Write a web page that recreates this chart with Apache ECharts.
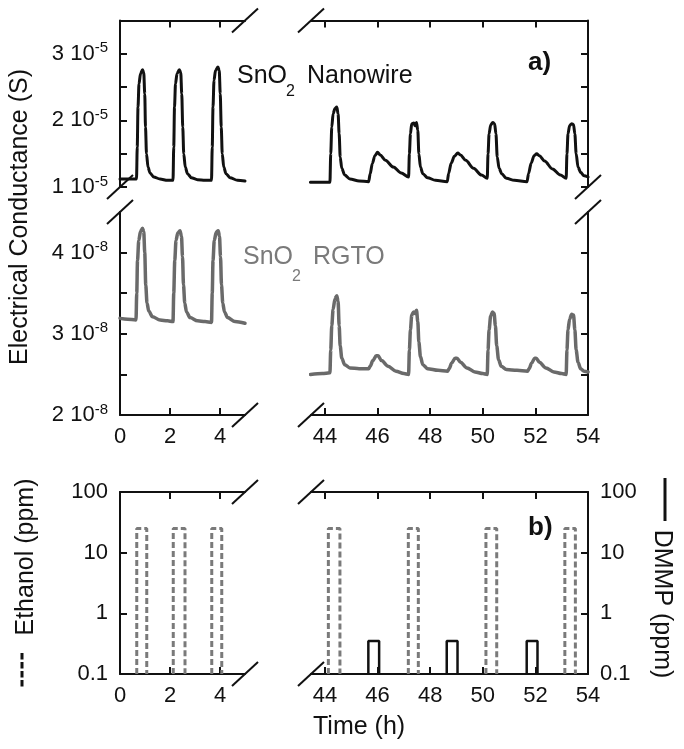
<!DOCTYPE html>
<html><head><meta charset="utf-8">
<script src="https://cdn.jsdelivr.net/npm/echarts@6/dist/echarts.min.js"></script>
<style>html,body{margin:0;padding:0;background:#fff}#c{width:684px;height:749px}</style>
</head><body><div id="c"></div>
<script>
// ---------- DATA ----------
// Time (h); nanowire conductance in units of 1e-5 S
const nanoLeft = [[0,1.12],[0.3,1.12],[0.66,1.12],[0.69,1.6],[0.72,2.2],[0.76,2.55],[0.82,2.7],[0.9,2.76],[0.95,2.72],[0.99,2.4],[1.02,1.9],[1.06,1.5],[1.12,1.3],[1.2,1.21],[1.35,1.15],[1.6,1.12],[1.9,1.1],[2.12,1.1],
[2.15,1.6],[2.18,2.2],[2.22,2.55],[2.28,2.7],[2.37,2.76],[2.43,2.72],[2.47,2.4],[2.51,1.9],[2.55,1.5],[2.61,1.3],[2.7,1.2],[2.85,1.14],[3.1,1.11],[3.4,1.1],[3.66,1.1],
[3.69,1.6],[3.72,2.2],[3.76,2.6],[3.82,2.75],[3.92,2.8],[3.97,2.75],[4.01,2.4],[4.05,1.9],[4.09,1.5],[4.15,1.3],[4.24,1.2],[4.4,1.14],[4.7,1.1],[5.0,1.09]];
const nanoRight = [[43.45,1.07],[44.0,1.07],[44.19,1.07],[44.22,1.5],[44.26,1.9],[44.31,2.1],[44.38,2.18],[44.45,2.2],[44.5,2.1],[44.54,1.8],[44.58,1.45],[44.64,1.28],[44.75,1.18],[44.95,1.12],[45.3,1.09],[45.66,1.08],
[45.72,1.2],[45.8,1.35],[45.9,1.47],[46.0,1.52],[46.1,1.48],[46.3,1.4],[46.6,1.3],[46.9,1.21],[47.18,1.15],
[47.21,1.5],[47.25,1.8],[47.3,1.95],[47.38,1.96],[47.42,1.92],[47.48,1.97],[47.53,1.85],[47.57,1.5],[47.63,1.3],[47.72,1.2],[47.9,1.14],[48.2,1.1],[48.65,1.08],
[48.7,1.2],[48.8,1.36],[48.92,1.46],[49.05,1.51],[49.15,1.48],[49.35,1.4],[49.65,1.28],[49.95,1.18],[50.17,1.13],
[50.2,1.5],[50.24,1.8],[50.3,1.93],[50.38,1.97],[50.45,1.95],[50.5,1.8],[50.55,1.45],[50.62,1.28],[50.72,1.2],[50.9,1.13],[51.2,1.1],[51.68,1.08],
[51.74,1.2],[51.84,1.36],[51.95,1.47],[52.05,1.5],[52.15,1.47],[52.35,1.39],[52.65,1.27],[52.95,1.18],[53.17,1.13],
[53.2,1.5],[53.24,1.8],[53.3,1.92],[53.38,1.95],[53.45,1.94],[53.5,1.8],[53.55,1.5],[53.62,1.3],[53.72,1.22],[53.85,1.17],[54,1.15]];
// RGTO conductance in units of 1e-8 S
const rgtoLeft = [[0,3.19],[0.3,3.18],[0.64,3.17],[0.67,3.5],[0.7,3.9],[0.75,4.15],[0.82,4.26],[0.9,4.3],[0.95,4.26],[0.99,4.0],[1.03,3.6],[1.08,3.38],[1.15,3.28],[1.3,3.21],[1.6,3.17],[1.9,3.16],[2.12,3.15],
[2.15,3.5],[2.19,3.9],[2.24,4.15],[2.31,4.24],[2.4,4.27],[2.46,4.2],[2.5,3.95],[2.54,3.6],[2.59,3.38],[2.66,3.27],[2.8,3.2],[3.1,3.16],[3.4,3.15],[3.66,3.14],
[3.69,3.5],[3.72,3.9],[3.77,4.15],[3.85,4.25],[3.93,4.27],[3.98,4.2],[4.02,3.95],[4.06,3.6],[4.11,3.38],[4.18,3.27],[4.3,3.2],[4.6,3.15],[5.0,3.13]];
const rgtoRight = [[43.45,2.5],[43.9,2.51],[44.19,2.52],[44.22,2.8],[44.26,3.1],[44.31,3.3],[44.38,3.43],[44.45,3.47],[44.5,3.4],[44.54,3.1],[44.58,2.85],[44.64,2.7],[44.75,2.62],[44.95,2.58],[45.3,2.57],[45.66,2.57],
[45.72,2.6],[45.82,2.67],[45.95,2.73],[46.02,2.73],[46.15,2.67],[46.4,2.6],[46.7,2.54],[47.0,2.51],[47.18,2.5],
[47.21,2.8],[47.25,3.05],[47.3,3.23],[47.37,3.27],[47.42,3.25],[47.48,3.29],[47.53,3.15],[47.57,2.9],[47.63,2.72],[47.72,2.62],[47.9,2.57],[48.3,2.55],[48.66,2.54],
[48.72,2.57],[48.82,2.64],[48.95,2.7],[49.02,2.7],[49.15,2.65],[49.4,2.58],[49.7,2.53],[50.0,2.51],[50.17,2.5],
[50.2,2.8],[50.24,3.05],[50.3,3.22],[50.37,3.27],[50.43,3.25],[50.48,3.1],[50.53,2.85],[50.6,2.68],[50.7,2.6],[50.9,2.56],[51.3,2.55],[51.7,2.54],
[51.76,2.57],[51.86,2.64],[51.97,2.7],[52.03,2.7],[52.15,2.65],[52.4,2.58],[52.7,2.53],[53.0,2.51],[53.17,2.5],
[53.2,2.8],[53.24,3.05],[53.3,3.18],[53.38,3.24],[53.45,3.23],[53.5,3.05],[53.55,2.8],[53.62,2.65],[53.72,2.57],[53.85,2.54],[54,2.53]];
// gas pulses [start h, end h] and concentrations (ppm)
const ethanolLeft = [[0.67,1.07],[2.13,2.6],[3.67,4.07]];
const ethanolRight = [[44.13,44.57],[47.17,47.55],[50.12,50.53],[53.12,53.52]];
const dmmpRight = [[45.65,46.06],[48.63,49.04],[51.67,52.08]];
const ethanolPpm = 25;
const dmmpPpm = 0.35;
// axes
const xRangeLeft = [0,5];
const xRangeRight = [43.47,54];
const xLabelsLeft = [0,2,4];
const xLabelsRight = [44,46,48,50,52,54];
const xTicksLeft = [2,4];
const xTicksRight = [44,46,48,50,52];
const nanoRange = [1,3.5], nanoTicks = [1,1.5,2,2.5,3], nanoLabels = [1,2,3];
const rgtoRange = [2,4.5], rgtoTicks = [2,2.5,3,3.5,4], rgtoLabels = [2,3,4];
const ppmRange = [0.1,100];

// ---------- LAYOUT ----------
const INK = '#111';
const GRAY = '#6a6a6a';
const FONT = 'Liberation Sans, Arial, sans-serif';
const TICKFS = 22;
const L0=120, L1=245, R0=311, R1=588;
const AU_T=20.5, AU_B=187, AL_T=212, AL_B=415, B_T=492, B_B=674;

function grid(l,r,t,b){return {left:l, top:t, width:r-l, height:b-t, containLabel:false};}
const grids = [grid(L0,L1,AU_T,AU_B), grid(R0,R1,AU_T,AU_B), grid(L0,L1,AL_T,AL_B), grid(R0,R1,AL_T,AL_B), grid(L0,L1,B_T,B_B), grid(R0,R1,B_T,B_B)];

function xAx(gi, range, pos, ticks, labels){
  return {type:'value', gridIndex:gi, min:range[0], max:range[1], position:pos,
    axisLine:{show:true,onZero:false,lineStyle:{color:INK,width:2}},
    axisTick:{show:true,inside:true,length:7,customValues:ticks,lineStyle:{color:INK,width:2}},
    axisLabel: labels ? {show:true,customValues:labels,color:INK,fontSize:TICKFS,margin:11,fontFamily:FONT} : {show:false},
    splitLine:{show:false}};
}
function supFmt(exp){return v => '{m|' + Math.round(v) + ' 10}{s|' + exp + '}';}
const supRich = {m:{fontSize:TICKFS,lineHeight:26,color:INK,fontFamily:FONT}, s:{fontSize:15,lineHeight:14,verticalAlign:'top',color:INK,fontFamily:FONT}};
function yAx(gi, range, pos, ticks, labels, exp){
  return {type:'value', gridIndex:gi, min:range[0], max:range[1], position:pos,
    axisLine:{show:true,onZero:false,lineStyle:{color:INK,width:2}},
    axisTick:{show:true,inside:true,length:7,customValues:ticks,lineStyle:{color:INK,width:2}},
    axisLabel: labels ? {show:true,customValues:labels,margin:12,formatter:supFmt(exp),rich:supRich} : {show:false},
    splitLine:{show:false}};
}
function yLog(gi,pos){
  return {type:'log', logBase:10, gridIndex:gi, min:ppmRange[0], max:ppmRange[1], position:pos,
    axisLine:{show:true,onZero:false,lineStyle:{color:INK,width:2}},
    axisTick:{show:true,inside:true,length:7,lineStyle:{color:INK,width:2}},
    axisLabel:{show:true,color:INK,fontSize:TICKFS,margin:12,fontFamily:FONT,formatter:v=> v<0.5?'0.1':String(Math.round(v))},
    minorTick:{show:false}, splitLine:{show:false}};
}

const xAxes = [
  xAx(0,xRangeLeft,'top',xTicksLeft,null),
  xAx(1,xRangeRight,'top',xTicksRight,null),
  xAx(2,xRangeLeft,'bottom',xTicksLeft,xLabelsLeft),
  xAx(3,xRangeRight,'bottom',xTicksRight,xLabelsRight),
  xAx(4,xRangeLeft,'bottom',xTicksLeft,xLabelsLeft),
  xAx(5,xRangeRight,'bottom',xTicksRight,xLabelsRight),
  xAx(4,xRangeLeft,'top',xTicksLeft,null),
  xAx(5,xRangeRight,'top',xTicksRight,null)
];
const yAxes = [
  yAx(0,nanoRange,'left',nanoTicks,nanoLabels,'-5'),
  yAx(1,nanoRange,'right',nanoTicks,null),
  yAx(2,rgtoRange,'left',rgtoTicks,rgtoLabels,'-8'),
  yAx(3,rgtoRange,'right',rgtoTicks,null),
  yLog(4,'left'),
  yLog(5,'right')
];

function curve(data, xi, color, w){
  return {type:'line', xAxisIndex:xi, yAxisIndex:xi, data:data, showSymbol:false, symbol:'none',
    smooth:0.3, smoothMonotone:'x', lineStyle:{color:color,width:w,cap:'round',join:'round'}, z:5, silent:true};
}
function pulses(list, level){
  const out=[];
  list.forEach(p=>{ out.push([p[0],ppmRange[0]],[p[0],level],[p[1],level],[p[1],ppmRange[0]]); out.push(null); });
  return out;
}
function gas(list, level, xi, dashed){
  return {type:'line', xAxisIndex:xi, yAxisIndex:xi, data:pulses(list,level), showSymbol:false, symbol:'none',
    connectNulls:false, silent:true, z:4,
    lineStyle: dashed ? {color:'#7a7a7a',width:3,type:[6,3]} : {color:INK,width:2.5}};
}

const series = [
  curve(nanoLeft,0,INK,3),
  curve(nanoRight,1,INK,3),
  curve(rgtoLeft,2,GRAY,3.5),
  curve(rgtoRight,3,GRAY,3.5),
  gas(ethanolLeft,ethanolPpm,4,true),
  gas(ethanolRight,ethanolPpm,5,true),
  gas(dmmpRight,dmmpPpm,5,false)
];

function slash(cx,cy){return {type:'line', shape:{x1:cx-13,y1:cy+12,x2:cx+13,y2:cy-12}, style:{stroke:INK,lineWidth:2}, z:100};}
function txt(x,y,s,size,opts){return Object.assign({type:'text', x:x, y:y, z:100, style:Object.assign({text:s, fill:INK, font:size+'px '+FONT, align:'left', verticalAlign:'middle'}, opts||{})});}

const graphic = [
  slash(L1,AU_T), slash(R0,AU_T), slash(L1,AL_B), slash(R0,AL_B),
  slash(L0,AU_B), slash(L0,AL_T), slash(R1,AU_B), slash(R1,AL_T),
  slash(L1,B_T), slash(R0,B_T), slash(L1,B_B), slash(R0,B_B),
  // titles
  Object.assign(txt(20,217,'Electrical Conductance (S)',25,{align:'center'}),{rotation:Math.PI/2}),
  txt(313,727,'Time (h)',25),
  Object.assign(txt(26,557,'Ethanol (ppm)',25,{align:'center'}),{rotation:Math.PI/2}),
  {type:'line', shape:{x1:22,y1:653,x2:22,y2:688}, style:{stroke:INK,lineWidth:3,lineDash:[6.5,2.5]}, z:100},
  Object.assign(txt(662,604,'DMMP (ppm)',25,{align:'center'}),{rotation:-Math.PI/2}),
  {type:'line', shape:{x1:665,y1:478,x2:665,y2:521}, style:{stroke:INK,lineWidth:3}, z:100},
  // panel labels
  txt(528,63,'a)',26,{font:'bold 26px '+FONT}),
  txt(528,528,'b)',26,{font:'bold 26px '+FONT}),
  // sample labels
  txt(237,76,'SnO',25), txt(286,92,'2',16), txt(307,76,'Nanowire',25),
  txt(243,257,'SnO',25,{fill:'#7a7a7a'}), txt(292,277,'2',16,{fill:'#7a7a7a'}), txt(313,257,'RGTO',25,{fill:'#7a7a7a'})
];

const chart = echarts.init(document.getElementById('c'), null, {renderer:'canvas'});
chart.setOption({
  animation:false,
  backgroundColor:'#fff',
  textStyle:{fontFamily:FONT},
  grid:grids, xAxis:xAxes, yAxis:yAxes, series:series, graphic:graphic
});
</script></body></html>
